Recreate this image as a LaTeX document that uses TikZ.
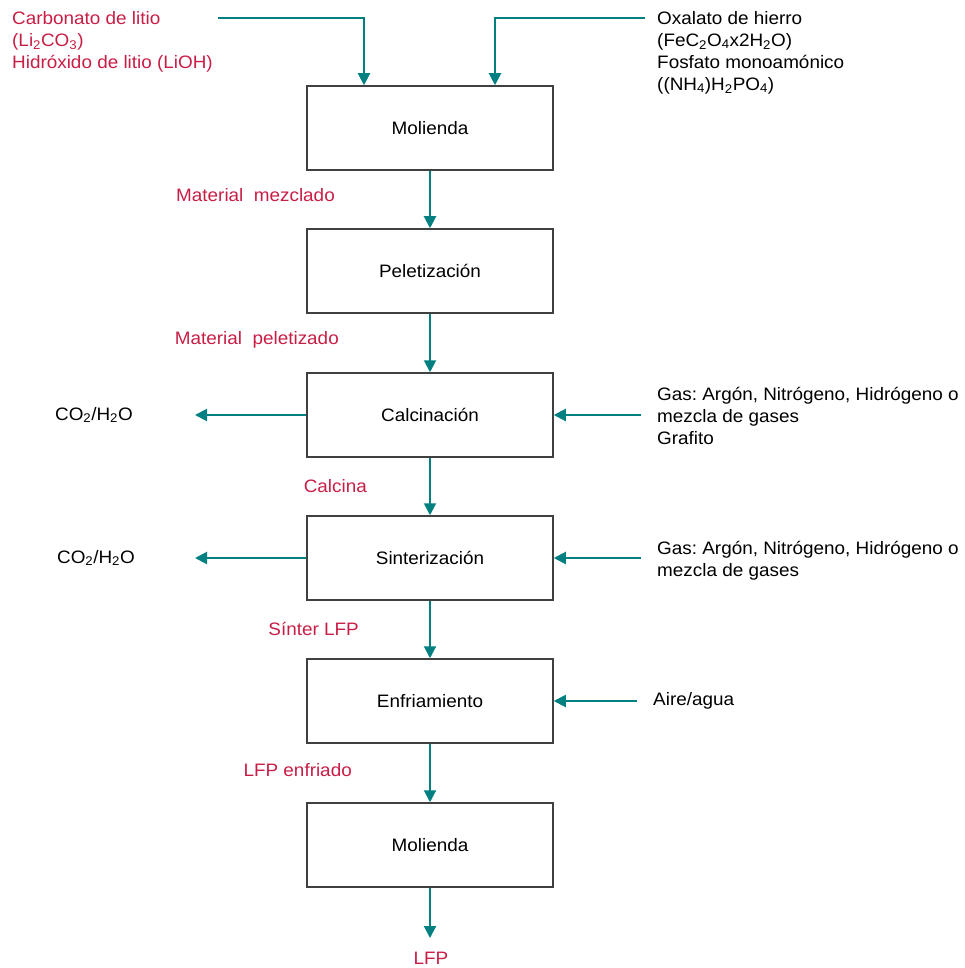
\documentclass[tikz,border=0pt]{standalone}
\usepackage{fontspec}
\setmainfont{Liberation Sans}[FakeStretch=1.05]
\usetikzlibrary{arrows.meta}
\definecolor{vertflux}{RGB}{0,128,128}
\definecolor{rougeflux}{RGB}{200,30,70}
\frenchspacing
\begin{document}
\begin{tikzpicture}[x=1pt,y=-1pt,
	font=\fontsize{18}{22}\selectfont,
	etape/.style={draw=black!75,line width=1.5pt,minimum width=246pt,minimum height=84pt,inner sep=0pt},
	flux/.style={vertflux,line width=2pt,-{Triangle[length=12pt,width=12pt]}},
	produit/.style={text=rougeflux,inner sep=0pt},
	texte/.style={inner sep=0pt,align=left}]
\useasboundingbox (0,0) rectangle (965,968);
%					Tracé des étapes :
\node[etape] (m1) at (430,128) {Molienda};
\node[etape] (m2) at (430,271) {Peletización};
\node[etape] (m3) at (430,415) {Calcinación};
\node[etape] (m4) at (430,558) {Sinterización};
\node[etape] (m5) at (430,701) {Enfriamiento};
\node[etape] (m6) at (430,845) {Molienda};
%					Tracé des entrées :
\node[texte,text=rougeflux,anchor=north west] (litio) at (12,11) {Carbonato de litio\\(Li\textsubscript{2}CO\textsubscript{3})\\Hidróxido de litio (LiOH)};
\node[texte,anchor=north west] (hierro) at (657,11) {Oxalato de hierro\\(FeC\textsubscript{2}O\textsubscript{4}x2H\textsubscript{2}O)\\Fosfato monoamónico\\((NH\textsubscript{4})H\textsubscript{2}PO\textsubscript{4})};
\coordinate (eA) at (218,18);
\coordinate (eB) at (645,18);
\draw[flux] (eA) -| ([xshift=-66pt]m1.north);
\draw[flux] (eB) -| ([xshift=65pt]m1.north);
\node[texte,anchor=north west] (gas1) at (657,387) {Gas: Argón, Nitrógeno, Hidrógeno o\\mezcla de gases\\Grafito};
\node[texte,anchor=north west] (gas2) at (657,541) {Gas: Argón, Nitrógeno, Hidrógeno o\\mezcla de gases};
\node[texte,anchor=west] (aire) at (653,701) {Aire/agua};
\coordinate (e3) at (641,415);
\coordinate (e4) at (641,558);
\coordinate (e5) at (637,701);
\draw[flux] (e3) -- (m3.east);
\draw[flux] (e4) -- (m4.east);
\draw[flux] (e5) -- (m5.east);
%					Tracé des sorties :
\node[texte,anchor=east] (gaz3) at (133,415) {CO\textsubscript{2}/H\textsubscript{2}O};
\node[texte,anchor=east] (gaz4) at (135,558) {CO\textsubscript{2}/H\textsubscript{2}O};
\coordinate (s3) at (195,415);
\coordinate (s4) at (195,558);
\draw[flux] (m3.west) -- (s3);
\draw[flux] (m4.west) -- (s4);
%					Tracé des produits :
\node[produit,anchor=east] (p1) at (335,195) {Material\ \ mezclado};
\node[produit,anchor=east] (p2) at (339,340) {Material\ \ peletizado};
\node[produit,anchor=east] (p3) at (367,486) {Calcina};
\node[produit,anchor=east] (p4) at (359,629) {Sínter LFP};
\node[produit,anchor=east] (p5) at (352,770) {LFP enfriado};
\node[produit] (lfp) at (431,958) {LFP};
\coordinate (s6) at (430,938);
\draw[flux] (m1) -- (m2);
\draw[flux] (m2) -- (m3);
\draw[flux] (m3) -- (m4);
\draw[flux] (m4) -- (m5);
\draw[flux] (m5) -- (m6);
\draw[flux] (m6) -- (s6);
\end{tikzpicture}
\end{document}
